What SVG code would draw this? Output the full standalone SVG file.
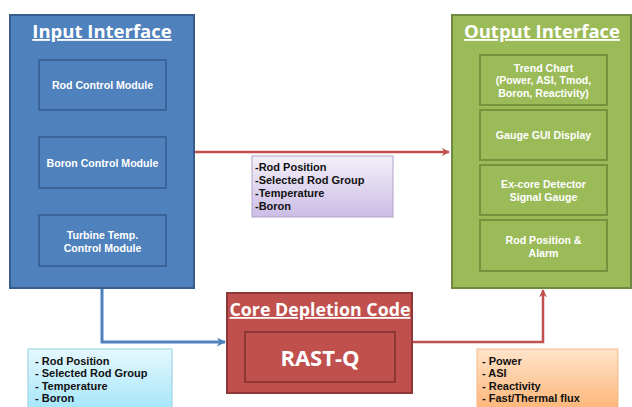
<svg xmlns="http://www.w3.org/2000/svg" width="632" height="407" viewBox="0 0 632 407">
<defs>
<linearGradient id="gPurple" x1="0" y1="0" x2="0" y2="1"><stop offset="0" stop-color="#F4F0F9"/><stop offset="1" stop-color="#CBBDE6"/></linearGradient>
<linearGradient id="gBlue" x1="0" y1="0" x2="0" y2="1"><stop offset="0" stop-color="#E6F8FE"/><stop offset="1" stop-color="#A6E6FB"/></linearGradient>
<linearGradient id="gOrange" x1="0" y1="0" x2="0" y2="1"><stop offset="0" stop-color="#FFE4CA"/><stop offset="1" stop-color="#FDB679"/></linearGradient>
<marker id="aBlue" viewBox="0 0 10 10" refX="9" refY="5" markerWidth="3" markerHeight="3" orient="auto" markerUnits="strokeWidth"><path d="M0,0 L10,5 L0,10 L3,5 Z" fill="#4F81BD"/></marker>
<marker id="aRed" viewBox="0 0 10 10" refX="9" refY="5" markerWidth="3.2" markerHeight="3.2" orient="auto" markerUnits="strokeWidth"><path d="M0,0 L10,5 L0,10 L3,5 Z" fill="#C0504D"/></marker>
</defs>
<style>
.t{font-family:"Open Sans","Noto Sans","Liberation Sans",sans-serif;font-weight:bold;fill:#fff;text-anchor:middle}
.title{font-size:18.5px;text-decoration:underline}
.n{font-family:"Liberation Sans","Arial",sans-serif;font-size:10.6px}
.lbl{font-family:"Liberation Sans","Arial",sans-serif;font-weight:bold;font-size:11px;fill:#111}
.inB{fill:#4F81BD;stroke:#3A659A;stroke-width:2}
.inG{fill:#9BBB59;stroke:#76923C;stroke-width:2}
.inR{fill:#C0504D;stroke:#8E3734;stroke-width:2}
</style>
<rect width="632" height="407" fill="#fff"/>
<g id="connectors" fill="none">
<path d="M194,152 H449" stroke="#C0504D" stroke-width="2.5" marker-end="url(#aRed)"/>
<path d="M102,288 V342 H225" stroke="#4F81BD" stroke-width="3" marker-end="url(#aBlue)"/>
<path d="M413,342 H543 V290" stroke="#C0504D" stroke-width="2.5" marker-end="url(#aRed)"/>
</g>
<g id="input-interface">
<rect x="10" y="15" width="184" height="273" fill="#4F81BD" stroke="#385D8A" stroke-width="2"/>
<text class="t title" x="102" y="38">Input Interface</text>
<g id="rod-control"><rect class="inB" x="39" y="60" width="127" height="50"/><text class="t n" x="102.5" y="89">Rod Control Module</text></g>
<g id="boron-control"><rect class="inB" x="39" y="137" width="127" height="51"/><text class="t n" x="102.5" y="167">Boron Control Module</text></g>
<g id="turbine-control"><rect class="inB" x="39" y="215" width="127" height="51"/><text class="t n" x="102.5" y="239">Turbine Temp.</text><text class="t n" x="102.5" y="251.5">Control Module</text></g>
</g>
<g id="output-interface">
<rect x="452" y="15" width="179" height="273" fill="#9BBB59" stroke="#71893F" stroke-width="2"/>
<text class="t title" x="542" y="38">Output Interface</text>
<g id="trend-chart"><rect class="inG" x="480" y="55" width="127" height="50"/><text class="t n" x="543.5" y="71.5">Trend Chart</text><text class="t n" x="543.5" y="84">(Power, ASI, Tmod,</text><text class="t n" x="543.5" y="96.5">Boron, Reactivity)</text></g>
<g id="gauge-gui"><rect class="inG" x="480" y="110" width="127" height="50"/><text class="t n" x="543.5" y="139">Gauge GUI Display</text></g>
<g id="excore"><rect class="inG" x="480" y="165" width="127" height="50"/><text class="t n" x="543.5" y="188">Ex-core Detector</text><text class="t n" x="543.5" y="200.5">Signal Gauge</text></g>
<g id="rod-alarm"><rect class="inG" x="480" y="220" width="127" height="51"/><text class="t n" x="543.5" y="244">Rod Position &amp;</text><text class="t n" x="543.5" y="256.5">Alarm</text></g>
</g>
<g id="core-depletion">
<rect x="227" y="293" width="185" height="100" fill="#C0504D" stroke="#8C3836" stroke-width="2"/>
<text class="t title" x="320" y="316" style="font-size:17.8px">Core Depletion Code</text>
<g id="rast-q"><rect class="inR" x="245" y="332" width="150" height="50"/><text class="t" x="320" y="366" font-size="22">RAST-Q</text></g>
</g>
<g id="label-top">
<rect x="252" y="156" width="141" height="61" fill="url(#gPurple)" stroke="#B3A2C7" stroke-width="1"/>
<text class="lbl" x="255" y="171">-Rod Position</text>
<text class="lbl" x="255" y="184">-Selected Rod  Group</text>
<text class="lbl" x="255" y="197">-Temperature</text>
<text class="lbl" x="255" y="209.5">-Boron</text>
</g>
<g id="label-bottom-left">
<rect x="28" y="349" width="144" height="60" fill="url(#gBlue)" stroke="#93CDDD" stroke-width="1"/>
<text class="lbl" x="35" y="364.5">- Rod Position</text>
<text class="lbl" x="35" y="377">- Selected Rod Group</text>
<text class="lbl" x="35" y="389.5">- Temperature</text>
<text class="lbl" x="35" y="402">- Boron</text>
</g>
<g id="label-bottom-right">
<rect x="477" y="349" width="141" height="60" fill="url(#gOrange)" stroke="#F5B98A" stroke-width="1"/>
<text class="lbl" x="482" y="364.5">- Power</text>
<text class="lbl" x="482" y="377">- ASI</text>
<text class="lbl" x="482" y="389.5">- Reactivity</text>
<text class="lbl" x="482" y="402">- Fast/Thermal flux</text>
</g>
</svg>
